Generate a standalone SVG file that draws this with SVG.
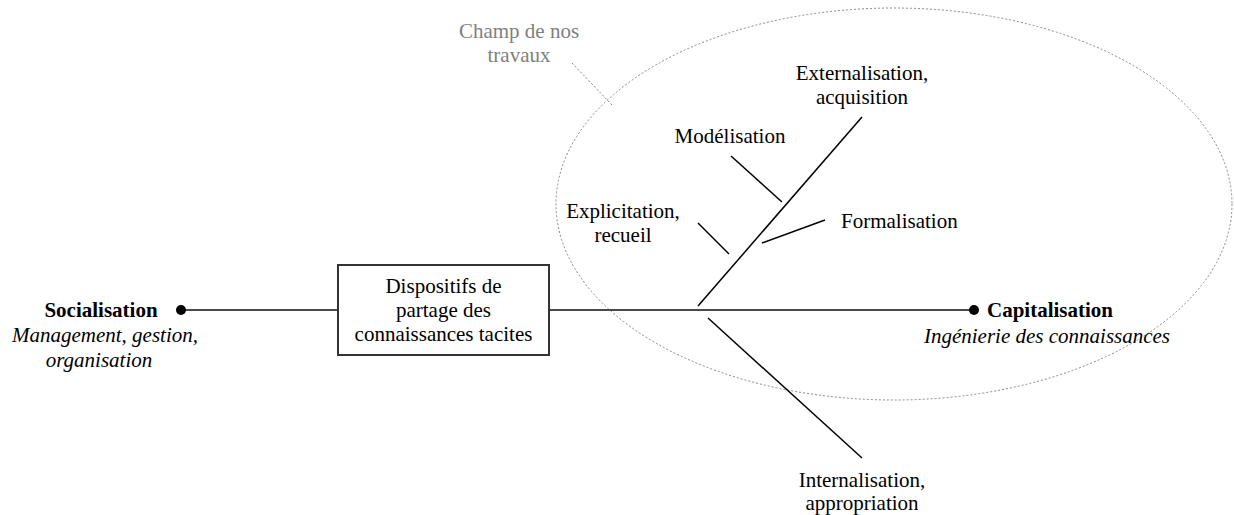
<svg xmlns="http://www.w3.org/2000/svg" width="1234" height="515" viewBox="0 0 1234 515">
<style>
text{font-family:"Liberation Serif","Times New Roman",serif;font-size:21px;fill:#000}
.c{text-anchor:middle}
.b{font-weight:bold}
.i{font-style:italic}
.g{fill:#808080}
.main{stroke:#4a4a4a;stroke-width:2;fill:none}
.fish{stroke:#000;stroke-width:1.5;fill:none}
.dot{stroke:#888;stroke-width:1;stroke-dasharray:2,2;fill:none}
.box{fill:#fff;stroke:#333;stroke-width:2}
</style>
<g id="field">
<ellipse class="dot" cx="894" cy="204" rx="338" ry="196"/>
<line class="dot" x1="572" y1="63" x2="612" y2="105"/>
<text class="c g" x="519" y="38">Champ de nos</text>
<text class="c g" x="519" y="62">travaux</text>
</g>
<g id="connectors">
<line class="main" x1="181" y1="310" x2="338" y2="310"/>
<line class="main" x1="549" y1="310" x2="974" y2="310"/>
<line class="fish" x1="698" y1="306" x2="862" y2="117"/>
<line class="fish" x1="731" y1="156" x2="782" y2="202"/>
<line class="fish" x1="762" y1="243" x2="825" y2="220"/>
<line class="fish" x1="698" y1="223" x2="729" y2="254"/>
<line class="fish" x1="708" y1="318" x2="862" y2="458"/>
</g>
<g id="socialisation">
<circle cx="181" cy="310" r="5" fill="#000"/>
<text class="c b" x="101" y="317">Socialisation</text>
<text class="c i" x="105" y="342">Management, gestion,</text>
<text class="c i" x="99" y="367">organisation</text>
</g>
<g id="dispositifs">
<rect class="box" x="338" y="265" width="211" height="90"/>
<text class="c" x="443.5" y="293">Dispositifs de</text>
<text class="c" x="443.5" y="317">partage des</text>
<text class="c" x="443.5" y="341">connaissances tacites</text>
</g>
<g id="capitalisation">
<circle cx="974" cy="310" r="5" fill="#000"/>
<text class="b" x="987" y="317">Capitalisation</text>
<text class="c i" x="1047" y="343">Ingénierie des connaissances</text>
</g>
<g id="externalisation">
<text class="c" x="862" y="80">Externalisation,</text>
<text class="c" x="862" y="104">acquisition</text>
</g>
<g id="modelisation">
<text class="c" x="730" y="143">Modélisation</text>
</g>
<g id="formalisation">
<text x="841" y="228">Formalisation</text>
</g>
<g id="explicitation">
<text class="c" x="623" y="218">Explicitation,</text>
<text class="c" x="623" y="242">recueil</text>
</g>
<g id="internalisation">
<text class="c" x="862" y="487">Internalisation,</text>
<text class="c" x="862" y="510">appropriation</text>
</g>
</svg>
